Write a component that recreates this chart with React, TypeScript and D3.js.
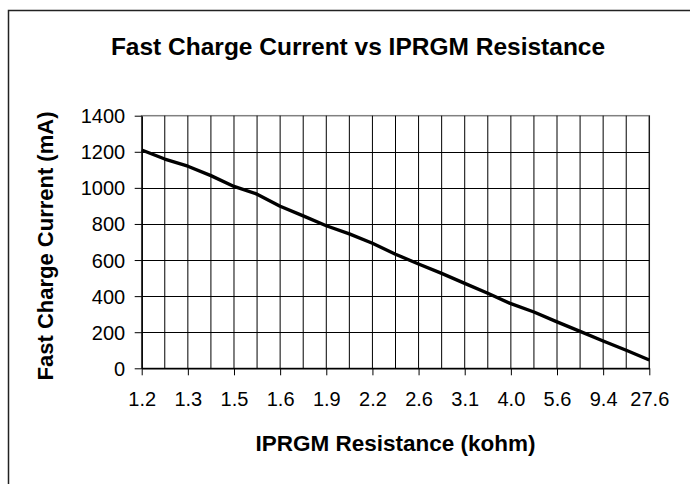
import React, {useRef, useEffect} from 'react';
import * as d3 from 'd3';

const width = 690;
const height = 484;
const font = '"Liberation Sans", Arial, sans-serif';

// IPRGM resistance (kohm), every category; only every other one is labelled
const resistance = [
  '1.2', '1.25', '1.3', '1.4', '1.5', '1.5', '1.6', '1.7', '1.9', '2.0', '2.2', '2.4',
  '2.6', '2.8', '3.1', '3.5', '4.0', '4.7', '5.6', '7.0', '9.4', '14.5', '27.6',
];
// fast charge current (mA)
const current = [
  1210, 1160, 1120, 1068, 1008, 965, 898, 845, 790, 745, 693, 632,
  578, 526, 471, 416, 358, 312, 257, 205, 151, 100, 46,
];
const yTicks = [0, 200, 400, 600, 800, 1000, 1200, 1400];

const title = 'Fast Charge Current vs IPRGM Resistance';
const xTitle = 'IPRGM Resistance (kohm)';
const yTitle = 'Fast Charge Current (mA)';

const plot = {left: 141.7, right: 649.3, top: 115.7, bottom: 368.3};

const draw = (node: SVGSVGElement) => {
  const svg = d3.select(node);
  svg.selectAll('*').remove();

  const idx = d3.range(resistance.length);
  const x = d3.scalePoint<number>().domain(idx).range([plot.left, plot.right]);
  const y = d3.scaleLinear().domain([0, 1400]).range([plot.bottom, plot.top]);

  // outer chart frame
  svg
  .append('rect')
  .attr('x', 8.5)
  .attr('y', 10.5)
  .attr('width', 720)
  .attr('height', 520)
  .attr('fill', '#fff')
  .attr('stroke', '#222')
  .attr('stroke-width', 1.5);

  // plot area border
  svg
  .append('rect')
  .attr('x', plot.left)
  .attr('y', plot.top)
  .attr('width', plot.right - plot.left)
  .attr('height', plot.bottom - plot.top)
  .attr('fill', 'none')
  .attr('stroke', '#808080')
  .attr('stroke-width', 1.5);

  // vertical gridlines, one per category
  svg
  .append('g')
  .selectAll('line')
  .data(idx.slice(1))
  .enter()
  .append('line')
  .attr('x1', d => x(d)!)
  .attr('x2', d => x(d)!)
  .attr('y1', plot.top)
  .attr('y2', plot.bottom)
  .attr('stroke', '#000')
  .attr('stroke-width', 1);

  // horizontal gridlines
  svg
  .append('g')
  .selectAll('line')
  .data(yTicks.slice(1, -1))
  .enter()
  .append('line')
  .attr('x1', plot.left)
  .attr('x2', plot.right)
  .attr('y1', d => Math.round(y(d)) + 0.5)
  .attr('y2', d => Math.round(y(d)) + 0.5)
  .attr('stroke', '#000')
  .attr('stroke-width', 1);

  // y axis
  const yAxis = svg
  .append('g')
  .attr('transform', `translate(${plot.left},0)`)
  .call(
    d3
    .axisLeft(y)
    .tickValues(yTicks)
    .tickFormat(d3.format('d'))
    .tickSize(7)
    .tickSizeOuter(0),
  );
  yAxis.select('.domain').attr('stroke', '#000').attr('stroke-width', 1.5).attr('fill', 'none');
  yAxis.selectAll('.tick line').attr('stroke', '#000');
  yAxis
  .selectAll('.tick text')
  .attr('x', -16.5)
  .attr('dy', '0.35em')
  .attr('font-family', font)
  .attr('font-size', 20)
  .attr('fill', '#000');

  // x axis
  const xAxis = svg
  .append('g')
  .attr('transform', `translate(0,${plot.bottom})`)
  .call(
    d3
    .axisBottom(x)
    .tickValues(idx.filter(i => i % 2 === 0))
    .tickFormat(i => resistance[i as number])
    .tickSize(7)
    .tickSizeOuter(0),
  );
  xAxis.select('.domain').attr('stroke', '#000').attr('stroke-width', 1.5).attr('fill', 'none');
  xAxis.selectAll('.tick line').attr('stroke', '#000');
  xAxis
  .selectAll('.tick text')
  .attr('y', 37.5)
  .attr('dy', 0)
  .attr('font-family', font)
  .attr('font-size', 20)
  .attr('fill', '#000');

  // series line
  const line = d3
  .line<number>()
  .x((_, i) => x(i)!)
  .y(d => y(d));
  svg
  .append('path')
  .datum(current)
  .attr('d', line)
  .attr('fill', 'none')
  .attr('stroke', '#000')
  .attr('stroke-width', 3.4)
  .attr('stroke-linejoin', 'round');

  // titles
  svg
  .append('text')
  .attr('x', 358)
  .attr('y', 55)
  .attr('text-anchor', 'middle')
  .attr('font-family', font)
  .attr('font-weight', 'bold')
  .attr('font-size', 24.5)
  .text(title);

  svg
  .append('text')
  .attr('x', (plot.left + plot.right) / 2)
  .attr('y', 451)
  .attr('text-anchor', 'middle')
  .attr('font-family', font)
  .attr('font-weight', 'bold')
  .attr('font-size', 22.5)
  .text(xTitle);

  svg
  .append('text')
  .attr('transform', `translate(52.5,246) rotate(-90)`)
  .attr('text-anchor', 'middle')
  .attr('font-family', font)
  .attr('font-weight', 'bold')
  .attr('font-size', 22)
  .text(yTitle);
};

export default function App() {
  const svgRef = useRef<SVGSVGElement>(null);
  useEffect(() => {
    if (svgRef.current) {
      draw(svgRef.current);
    }
  }, []);
  return (
    <svg
      ref={svgRef}
      width={width}
      height={height}
      style={{position: 'fixed', left: 0, top: 0, background: '#fff'}}
    />
  );
}
